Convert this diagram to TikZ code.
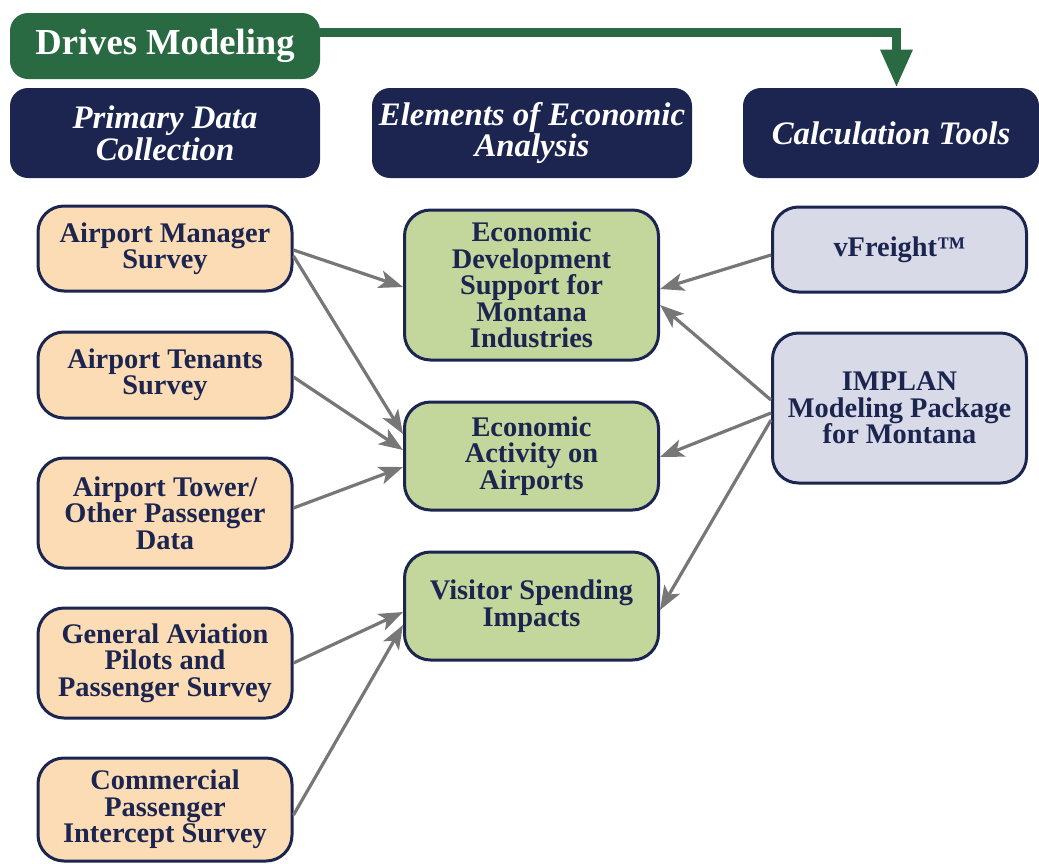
\documentclass[tikz,border=0pt]{standalone}
\usepackage{fontspec}
\setmainfont{Liberation Serif}
\usetikzlibrary{arrows.meta}
\definecolor{navy}{HTML}{1B2550}
\definecolor{dgreen}{HTML}{2A6A43}
\definecolor{peachc}{HTML}{FCDCB5}
\definecolor{lgreen}{HTML}{C3D69B}
\definecolor{lav}{HTML}{D8DAE8}
\definecolor{arrgray}{HTML}{777777}
\tikzset{
  box/.style={draw=navy, line width=1.5pt, rounded corners=13pt, align=center,
    text=navy, font=\fontsize{14.2}{13.2}\selectfont\bfseries, minimum width=127pt, inner sep=2pt},
  peachbox/.style={box, fill=peachc},
  greenbox/.style={box, fill=lgreen},
  lavbox/.style={box, fill=lav},
  header/.style={fill=navy, rounded corners=9pt, align=center, text=white,
    font=\fontsize{16.4}{14}\selectfont\bfseries\itshape, minimum height=45pt, inner sep=2pt},
  drivebox/.style={fill=dgreen, rounded corners=9pt, text=white,
    font=\fontsize{18.3}{18}\selectfont\bfseries, minimum width=155pt, minimum height=33pt},
  conn/.style={draw=arrgray, line width=1.6pt, -{Stealth[length=12pt,width=9pt,inset=3pt]}},
  greenarrow/.style={draw=dgreen, line width=4.5pt, -{Triangle[length=19pt,width=15pt]}}
}
\begin{document}
\begin{tikzpicture}[x=0.5pt,y=-0.5pt]
\useasboundingbox (0,0) rectangle (1039,863);
% headers
\node[drivebox] (dm) at (165,46) {Drives Modeling};
\node[header, minimum width=155pt] (h1) at (165,133) {Primary Data\\Collection};
\node[header, minimum width=160pt] (h2) at (532,133) {Elements of Economic\\Analysis};
\node[header, minimum width=148pt] (h3) at (891,133) {Calculation Tools};
% left column
\node[peachbox, minimum height=42.5pt] (am) at (165,248.5) {Airport Manager\\Survey};
\node[peachbox, minimum height=43pt] (at) at (165,375) {Airport Tenants\\Survey};
\node[peachbox, minimum height=55pt] (tw) at (165,513) {Airport Tower/\\Other Passenger\\Data};
\node[peachbox, minimum height=55pt] (ga) at (165,663) {General Aviation\\Pilots and\\Passenger Survey};
\node[peachbox, minimum height=51.5pt] (cp) at (165,809.5) {Commercial\\Passenger\\Intercept Survey};
% middle column
\node[greenbox, minimum height=75pt] (ed) at (531.5,285) {Economic\\Development\\Support for\\Montana\\Industries};
\node[greenbox, minimum height=54pt] (ea) at (531.5,456) {Economic\\Activity on\\Airports};
\node[greenbox, minimum height=54pt] (vs) at (531.5,606) {Visitor Spending\\Impacts};
% right column
\node[lavbox, minimum height=42.5pt] (vf) at (899.5,249.5) {vFreight™};
\node[lavbox, minimum height=75pt] (im) at (899.5,408) {IMPLAN\\Modeling Package\\for Montana};
% green arrow
\draw[greenarrow] ([yshift=7pt]dm.east) -| ([xshift=2.75pt]h3.north);
% left connectors
\draw[conn] ([yshift=-0.75pt]am.east) -- ([yshift=-1pt]ed.west);
\draw[conn] ([yshift=-3.75pt]am.east) -- ([yshift=11pt]ea.west);
\draw[conn] ([yshift=-1pt]at.east) -- ([yshift=3pt]ea.west);
\draw[conn] ([yshift=2.5pt]tw.east) -- ([yshift=-5.5pt]ea.west);
\draw[conn] (ga.east) -- ([yshift=-3pt]vs.west);
\draw[conn] ([yshift=-2.75pt]cp.east) -- ([yshift=-9.5pt]vs.west);
% right connectors
\draw[conn] ([yshift=-2.75pt]vf.west) -- ([yshift=-2pt]ed.east);
\draw[conn] ([yshift=4pt]im.west) -- ([yshift=-10pt]ed.east);
\draw[conn] ([yshift=-2.5pt]im.west) -- ([yshift=-0.5pt]ea.east);
\draw[conn] ([yshift=-6pt]im.west) -- ([yshift=-2pt]vs.east);
\end{tikzpicture}
\end{document}
